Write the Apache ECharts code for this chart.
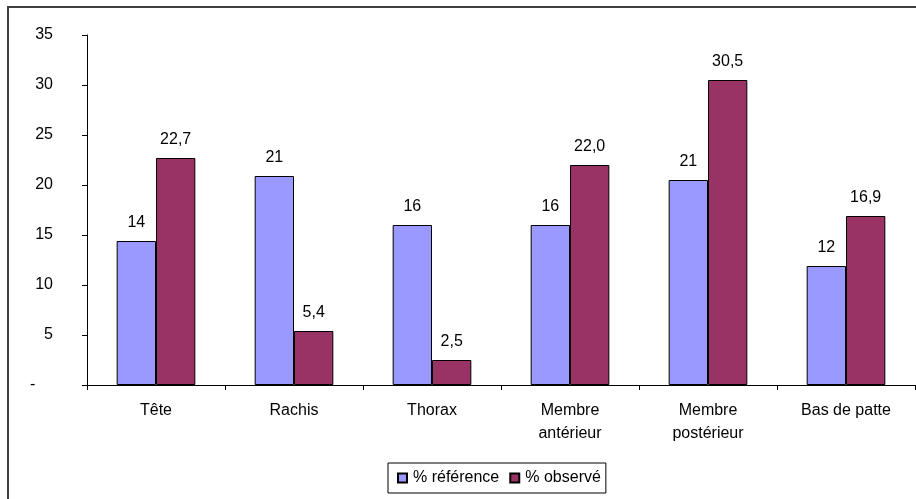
<!DOCTYPE html>
<html>
<head>
<meta charset="utf-8">
<script src="https://cdn.jsdelivr.net/npm/echarts@6/dist/echarts.min.js"></script>
<style>
  html, body { margin: 0; padding: 0; background: #fff; }
  #chart { width: 916px; height: 499px; }
</style>
</head>
<body>
<div id="chart"></div>
<script>
// categories and values
const categories = ['Tête', 'Rachis', 'Thorax', 'Membre\nantérieur', 'Membre\npostérieur', 'Bas de patte'];
const reference = [14.4, 20.9, 16.0, 16.0, 20.5, 11.9];
const observed = [22.7, 5.4, 2.5, 22.0, 30.5, 16.9];
const seriesNames = ['% référence', '% observé'];

const font = 'Liberation Sans, Arial, sans-serif';

const chart = echarts.init(document.getElementById('chart'), null, {renderer: 'canvas'});

chart.setOption({
    animation: false,
    textStyle: {fontFamily: font},
    graphic: [{
        type: 'rect',
        z: -10,
        shape: {x: 8, y: 7, width: 1000, height: 1000},
        style: {fill: 'none', stroke: '#404040', lineWidth: 2}
    }],
    grid: {left: 87, top: 35, right: 1, bottom: 114},
    legend: {
        left: 388,
        top: 463,
        padding: [7, 5, 7, 9],
        borderColor: '#000',
        borderWidth: 1,
        itemWidth: 9,
        itemHeight: 9,
        itemGap: 10,
        icon: 'rect',
        textStyle: {fontFamily: font, fontSize: 16, color: '#000', padding: [0, 0, 0, 1]},
        data: seriesNames
    },
    xAxis: {
        type: 'category',
        data: categories,
        axisLine: {lineStyle: {color: '#000', width: 1}},
        axisTick: {show: true, length: 5, lineStyle: {color: '#000'}},
        axisLabel: {color: '#000', fontSize: 16, fontFamily: font, margin: 14, lineHeight: 23}
    },
    yAxis: {
        type: 'value',
        min: 0,
        max: 35,
        interval: 5,
        axisLine: {show: true, lineStyle: {color: '#000', width: 1}},
        axisTick: {show: true, length: 5, lineStyle: {color: '#000'}},
        splitLine: {show: false},
        axisLabel: {
            color: '#000', fontSize: 16, fontFamily: font, margin: 34,
            formatter: v => v === 0 ? '-    ' : String(v)
        }
    },
    series: [
        {
            name: seriesNames[0],
            type: 'bar',
            data: reference,
            barGap: '0%',
            barCategoryGap: '43%',
            itemStyle: {color: '#9999FF', borderColor: '#000', borderWidth: 1},
            label: {
                show: true, position: 'top', distance: 10, color: '#000',
                fontSize: 16, fontFamily: font,
                formatter: p => String(Math.round(p.value))
            }
        },
        {
            name: seriesNames[1],
            type: 'bar',
            data: observed,
            barGap: '0%',
            barCategoryGap: '43%',
            itemStyle: {color: '#993366', borderColor: '#000', borderWidth: 1},
            label: {
                show: true, position: 'top', distance: 10, color: '#000',
                fontSize: 16, fontFamily: font,
                formatter: p => p.value.toFixed(1).replace('.', ',')
            }
        }
    ]
});
</script>
</body>
</html>
